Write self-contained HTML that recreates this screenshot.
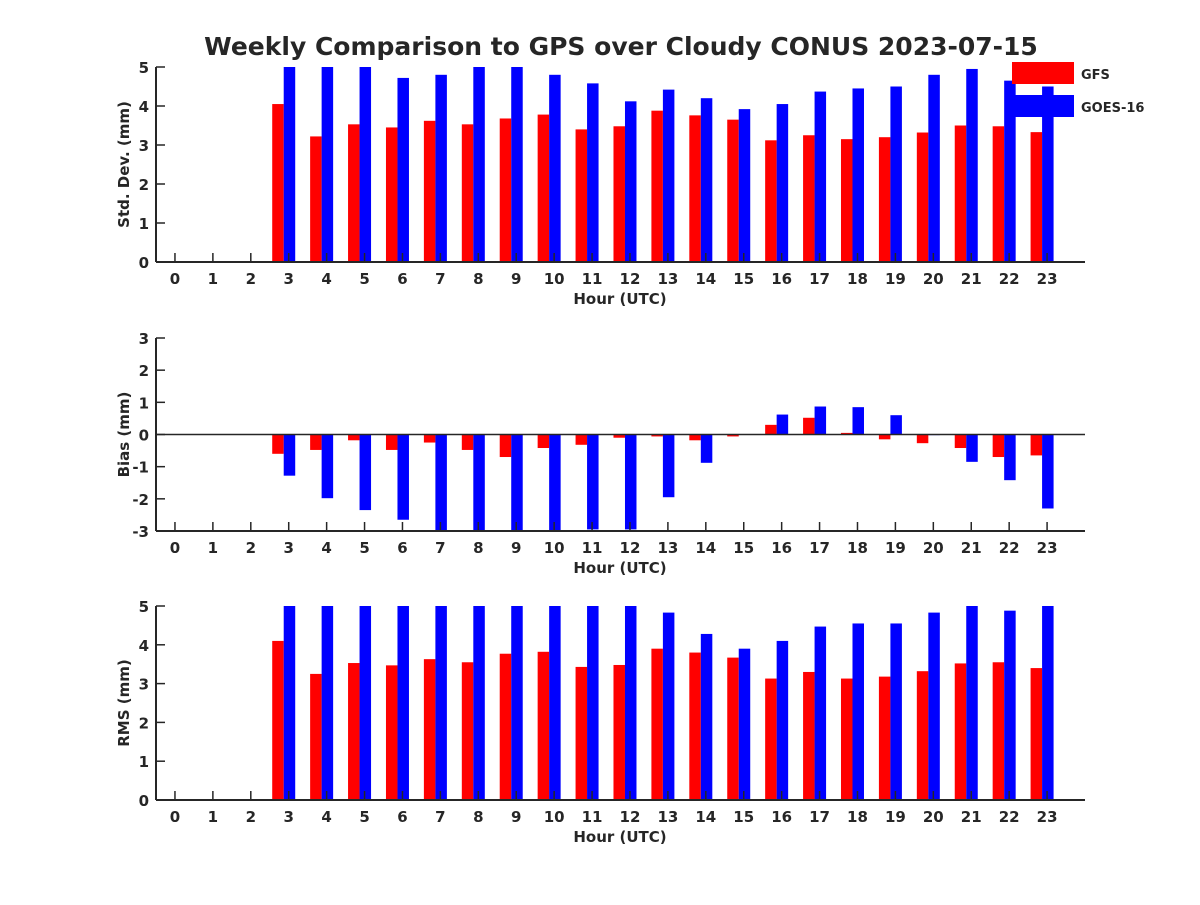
<!DOCTYPE html>
<html><head><meta charset="utf-8"><style>
body{margin:0;background:#fff}
text{font-family:"DejaVu Sans","Liberation Sans",sans-serif;font-weight:bold;fill:#262626}
</style></head><body>
<svg id="chart" width="1200" height="900" xmlns="http://www.w3.org/2000/svg">
<rect width="1200" height="900" fill="#fff"/>
<text x="621" y="55" font-size="25" text-anchor="middle">Weekly Comparison to GPS over Cloudy CONUS 2023-07-15</text>
</svg>
<script>
const hours=[0,1,2,3,4,5,6,7,8,9,10,11,12,13,14,15,16,17,18,19,20,21,22,23];
const stdGFS=[null,null,null,4.05,3.22,3.53,3.45,3.62,3.53,3.68,3.78,3.4,3.48,3.88,3.76,3.65,3.12,3.25,3.15,3.2,3.32,3.5,3.48,3.33];
const stdGOES=[null,null,null,5.5,5.5,5.5,4.72,4.8,5.5,5.5,4.8,4.58,4.12,4.42,4.2,3.92,4.05,4.37,4.45,4.5,4.8,4.95,4.65,4.5];
const biasGFS=[null,null,null,-0.6,-0.48,-0.18,-0.48,-0.25,-0.48,-0.7,-0.42,-0.32,-0.1,-0.06,-0.18,-0.06,0.3,0.52,0.05,-0.15,-0.27,-0.42,-0.7,-0.65];
const biasGOES=[null,null,null,-1.28,-1.98,-2.35,-2.65,-3.5,-3.5,-3.5,-3.5,-2.95,-2.95,-1.95,-0.88,0,0.62,0.87,0.85,0.6,-0.02,-0.85,-1.42,-2.3];
const rmsGFS=[null,null,null,4.1,3.25,3.53,3.47,3.63,3.55,3.77,3.82,3.43,3.48,3.9,3.8,3.67,3.13,3.3,3.13,3.18,3.32,3.52,3.55,3.4];
const rmsGOES=[null,null,null,5.5,5.5,5.5,5.5,5.5,5.5,5.5,5.5,5.5,5.5,4.83,4.28,3.9,4.1,4.47,4.55,4.55,4.83,5.5,4.88,5.5];
const stdTicks=[0,1,2,3,4,5], biasTicks=[-3,-2,-1,0,1,2,3], rmsTicks=[0,1,2,3,4,5];

const NS="http://www.w3.org/2000/svg", svg=document.getElementById('chart');
function mk(tag,attrs,parent){const e=document.createElementNS(NS,tag);for(const k in attrs)e.setAttribute(k,attrs[k]);(parent||svg).appendChild(e);return e;}
const X0=156,X1=1085;
const xs=h=>X0+(h+0.5)/24.5*(X1-X0);
function panel(id,top,bot,ymin,ymax,ticks,a,b,label,zeroLine){
  const ys=v=>bot-(v-ymin)/(ymax-ymin)*(bot-top);
  const g=mk('g',{});
  
  
  const cp=mk('clipPath',{id:'cp'+id},g);
  mk('rect',{x:X0,y:top,width:X1-X0,height:bot-top},cp);
  const bars=mk('g',{'clip-path':'url(#cp'+id+')'},g);
  const bw=11.5;
  hours.forEach((h,i)=>{
    [[a[i],'#ff0000',-16.5,'gfs'],[b[i],'#0000ff',-5,'goes']].forEach(([v,c,off,n])=>{
      if(v===null)return;
      const y0=ys(0),y1=ys(v);
      const r=mk('rect',{x:xs(h)+off,y:Math.min(y0,y1),width:bw,height:Math.abs(y1-y0),fill:c},bars);
      
      
    });
  });
  if(zeroLine){mk('line',{x1:X0,x2:X1,y1:ys(0),y2:ys(0),stroke:'#262626','stroke-width':1.5},g);}
  mk('line',{x1:X0,x2:X1,y1:bot,y2:bot,stroke:'#262626','stroke-width':2},g);
  mk('line',{x1:X0,x2:X0,y1:top,y2:bot,stroke:'#262626','stroke-width':2},g);
  hours.forEach(h=>{
    mk('line',{x1:xs(h),x2:xs(h),y1:bot,y2:bot-9,stroke:'#262626','stroke-width':1.5},g);
    const t=mk('text',{x:xs(h),y:bot+22,'font-size':15,'text-anchor':'middle'},g);t.textContent=h;
    
    
  });
  ticks.forEach(v=>{
    mk('line',{x1:X0,x2:X0+9,y1:ys(v),y2:ys(v),stroke:'#262626','stroke-width':1.5},g);
    const t=mk('text',{x:X0-7,y:ys(v)+6,'font-size':15,'text-anchor':'end'},g);t.textContent=v;
    
    
  });
  const xt=mk('text',{x:620,y:bot+42,'font-size':15,'text-anchor':'middle'},g);xt.textContent='Hour (UTC)';
  
  
  const cy=(top+bot)/2;
  const yt=mk('text',{x:129,y:cy,'font-size':15,'text-anchor':'middle',transform:'rotate(-90 129 '+cy+')'},g);yt.textContent=label;
  
  
}
panel('std',67,262,0,5,stdTicks,stdGFS,stdGOES,'Std. Dev. (mm)',false);
panel('bias',338,531,-3,3,biasTicks,biasGFS,biasGOES,'Bias (mm)',true);
panel('rms',606,800,0,5,rmsTicks,rmsGFS,rmsGOES,'RMS (mm)',false);
const lg=mk('g',{});


mk('rect',{x:1012,y:62,width:62,height:22,fill:'#ff0000'},lg);
mk('rect',{x:1012,y:95,width:62,height:22,fill:'#0000ff'},lg);
const l1=mk('text',{x:1081,y:79,'font-size':13},lg);l1.textContent='GFS';


const l2=mk('text',{x:1081,y:112,'font-size':13},lg);l2.textContent='GOES-16';


</script>
</body></html>
